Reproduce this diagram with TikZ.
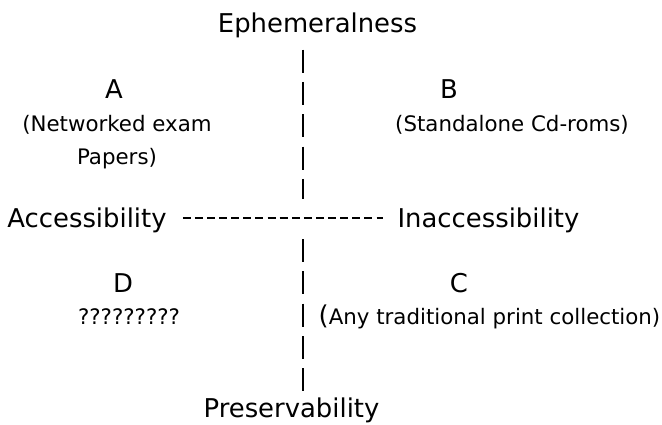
\documentclass[tikz,border=0pt]{standalone}
\usepackage{fontspec}
\setmainfont{DejaVu Sans}
\usetikzlibrary{positioning}

\newcommand{\bigtxt}{\fontsize{19.4}{24}\selectfont}
\newcommand{\smalltxt}{\fontsize{16}{24.75}\selectfont}

\tikzset{
  axis/.style={inner sep=0pt, anchor=base, font=\bigtxt},
  quad/.style={inner sep=0pt, anchor=base, font=\bigtxt},
  desc/.style={inner sep=0pt, anchor=base, font=\smalltxt, align=center},
  vbar/.style={line width=1.5pt, dash pattern=on 17.25pt off 7pt},
  hbar/.style={line width=1.5pt, dash pattern=on 6pt off 3.08pt},
}

\begin{document}
\begin{tikzpicture}[x=0.75pt, y=-0.75pt]
            \useasboundingbox (0,0) rectangle (662,425);
            \node[axis] (ephem) at (317.5,32) {Ephemeralness};
            \node[axis] (access) at (87,227) {Accessibility};
            \node[axis] (inaccess) at (488.5,227) {Inaccessibility};
            \node[axis] (preserv) at (291.5,417) {Preservability};
            \coordinate (mid) at (303,218);

            \node[quad] (qa) at (114,98) {A};
            \node[quad] (qb) at (449,98) {B};
            \node[quad] (qc) at (459,292) {C};
            \node[quad] (qd) at (123,292) {D};

            % last line sits on the base anchor
            \node[desc] (qa-txt) at (117,164) {(Networked exam\\Papers)};
            \node[desc] (qb-txt) at (512,131) {(Standalone Cd-roms)};
            \node[desc] (qc-txt) at (489.5,324) {{\bigtxt(}Any traditional print collection)};
            \node[desc] (qd-txt) at (129,324) {?????????};

            \draw[vbar, shorten <=8.9pt, shorten >=14.25pt] (ephem.south -| mid) -- (mid);
            \draw[vbar, shorten <=15.75pt, shorten >=2.5pt] (mid) -- (preserv.north -| mid);
            \draw[hbar, shorten <=12pt, shorten >=10.5pt] (access.east |- mid) -- (inaccess.west |- mid);
        \end{tikzpicture}
\end{document}
